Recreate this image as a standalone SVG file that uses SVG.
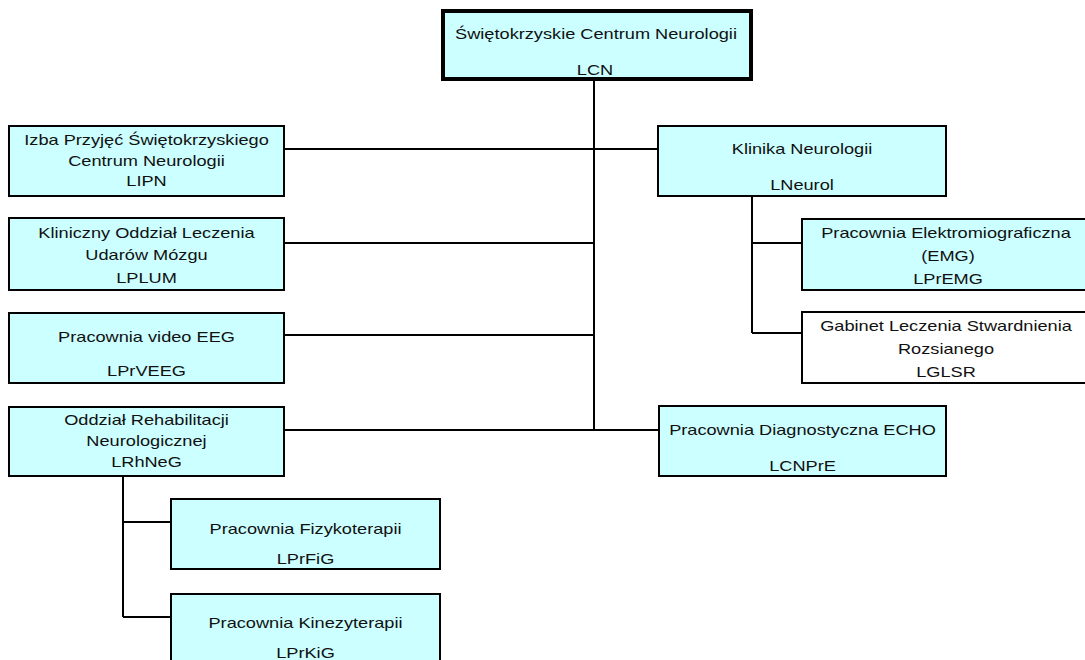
<svg xmlns="http://www.w3.org/2000/svg" width="1085" height="660" viewBox="0 0 1085 660">
<style>
.box{fill:#ccffff;stroke:#000;stroke-width:2}
.wbox{fill:#fff;stroke:#000;stroke-width:2}
.top{fill:#ccffff;stroke:#000;stroke-width:4}
.c{stroke:#000;stroke-width:2;fill:none}
text{font-family:"Liberation Sans",Arial,sans-serif;font-size:14px;fill:#111;text-anchor:middle}
</style>
<rect width="1085" height="660" fill="#fff"/>
<g id="connectors">
<path class="c" d="M594 80V430M284 149H658M284 243H594M284 335H594M284 430H659M752 196V333M752 243H802M752 333H802M123 476V617M123 522H171M123 617H171"/>
</g>
<g id="n-lcn">
<rect class="top" x="443" y="11" width="308" height="68"/>
<text transform="matrix(1.3 0 0 1 596 0)" x="0" y="39">Świętokrzyskie Centrum Neurologii</text>
<text transform="matrix(1.3 0 0 1 595 0)" x="0" y="75">LCN</text>
</g>
<g id="n-lipn">
<rect class="box" x="9" y="126" width="275" height="70"/>
<text transform="matrix(1.3 0 0 1 146.5 0)" x="0" y="145">Izba Przyjęć Świętokrzyskiego</text>
<text transform="matrix(1.3 0 0 1 146.5 0)" x="0" y="166">Centrum Neurologii</text>
<text transform="matrix(1.3 0 0 1 146.5 0)" x="0" y="186">LIPN</text>
</g>
<g id="n-lneurol">
<rect class="box" x="658" y="126" width="288" height="70"/>
<text transform="matrix(1.3 0 0 1 802 0)" x="0" y="154">Klinika Neurologii</text>
<text transform="matrix(1.3 0 0 1 802 0)" x="0" y="190">LNeurol</text>
</g>
<g id="n-lplum">
<rect class="box" x="9" y="218" width="275" height="72"/>
<text transform="matrix(1.3 0 0 1 146.5 0)" x="0" y="238">Kliniczny Oddział Leczenia</text>
<text transform="matrix(1.3 0 0 1 146.5 0)" x="0" y="260">Udarów Mózgu</text>
<text transform="matrix(1.3 0 0 1 146.5 0)" x="0" y="283">LPLUM</text>
</g>
<g id="n-lpremg">
<rect class="box" x="802" y="219" width="290" height="71"/>
<text transform="matrix(1.3 0 0 1 946 0)" x="0" y="238">Pracownia Elektromiograficzna</text>
<text transform="matrix(1.3 0 0 1 948 0)" x="0" y="261">(EMG)</text>
<text transform="matrix(1.3 0 0 1 948 0)" x="0" y="284">LPrEMG</text>
</g>
<g id="n-lglsr">
<rect class="wbox" x="802" y="312" width="290" height="71"/>
<text transform="matrix(1.3 0 0 1 946 0)" x="0" y="331">Gabinet Leczenia Stwardnienia</text>
<text transform="matrix(1.3 0 0 1 946 0)" x="0" y="354">Rozsianego</text>
<text transform="matrix(1.3 0 0 1 946 0)" x="0" y="377">LGLSR</text>
</g>
<g id="n-lprveeg">
<rect class="box" x="9" y="313" width="275" height="70"/>
<text transform="matrix(1.3 0 0 1 146.5 0)" x="0" y="342">Pracownia video EEG</text>
<text transform="matrix(1.3 0 0 1 146.5 0)" x="0" y="376">LPrVEEG</text>
</g>
<g id="n-lrhneg">
<rect class="box" x="9" y="407" width="275" height="69"/>
<text transform="matrix(1.3 0 0 1 146.5 0)" x="0" y="425">Oddział Rehabilitacji</text>
<text transform="matrix(1.3 0 0 1 146.5 0)" x="0" y="446">Neurologicznej</text>
<text transform="matrix(1.3 0 0 1 146.5 0)" x="0" y="467">LRhNeG</text>
</g>
<g id="n-lcnpre">
<rect class="box" x="659" y="406" width="287" height="70"/>
<text transform="matrix(1.3 0 0 1 802.5 0)" x="0" y="435">Pracownia Diagnostyczna ECHO</text>
<text transform="matrix(1.3 0 0 1 802.5 0)" x="0" y="471">LCNPrE</text>
</g>
<g id="n-lprfig">
<rect class="box" x="171" y="499" width="269" height="70"/>
<text transform="matrix(1.3 0 0 1 305.5 0)" x="0" y="534">Pracownia Fizykoterapii</text>
<text transform="matrix(1.3 0 0 1 305.5 0)" x="0" y="564">LPrFiG</text>
</g>
<g id="n-lprkig">
<rect class="box" x="171" y="594" width="269" height="80"/>
<text transform="matrix(1.3 0 0 1 305.5 0)" x="0" y="628">Pracownia Kinezyterapii</text>
<text transform="matrix(1.3 0 0 1 305.5 0)" x="0" y="658">LPrKiG</text>
</g>
</svg>
